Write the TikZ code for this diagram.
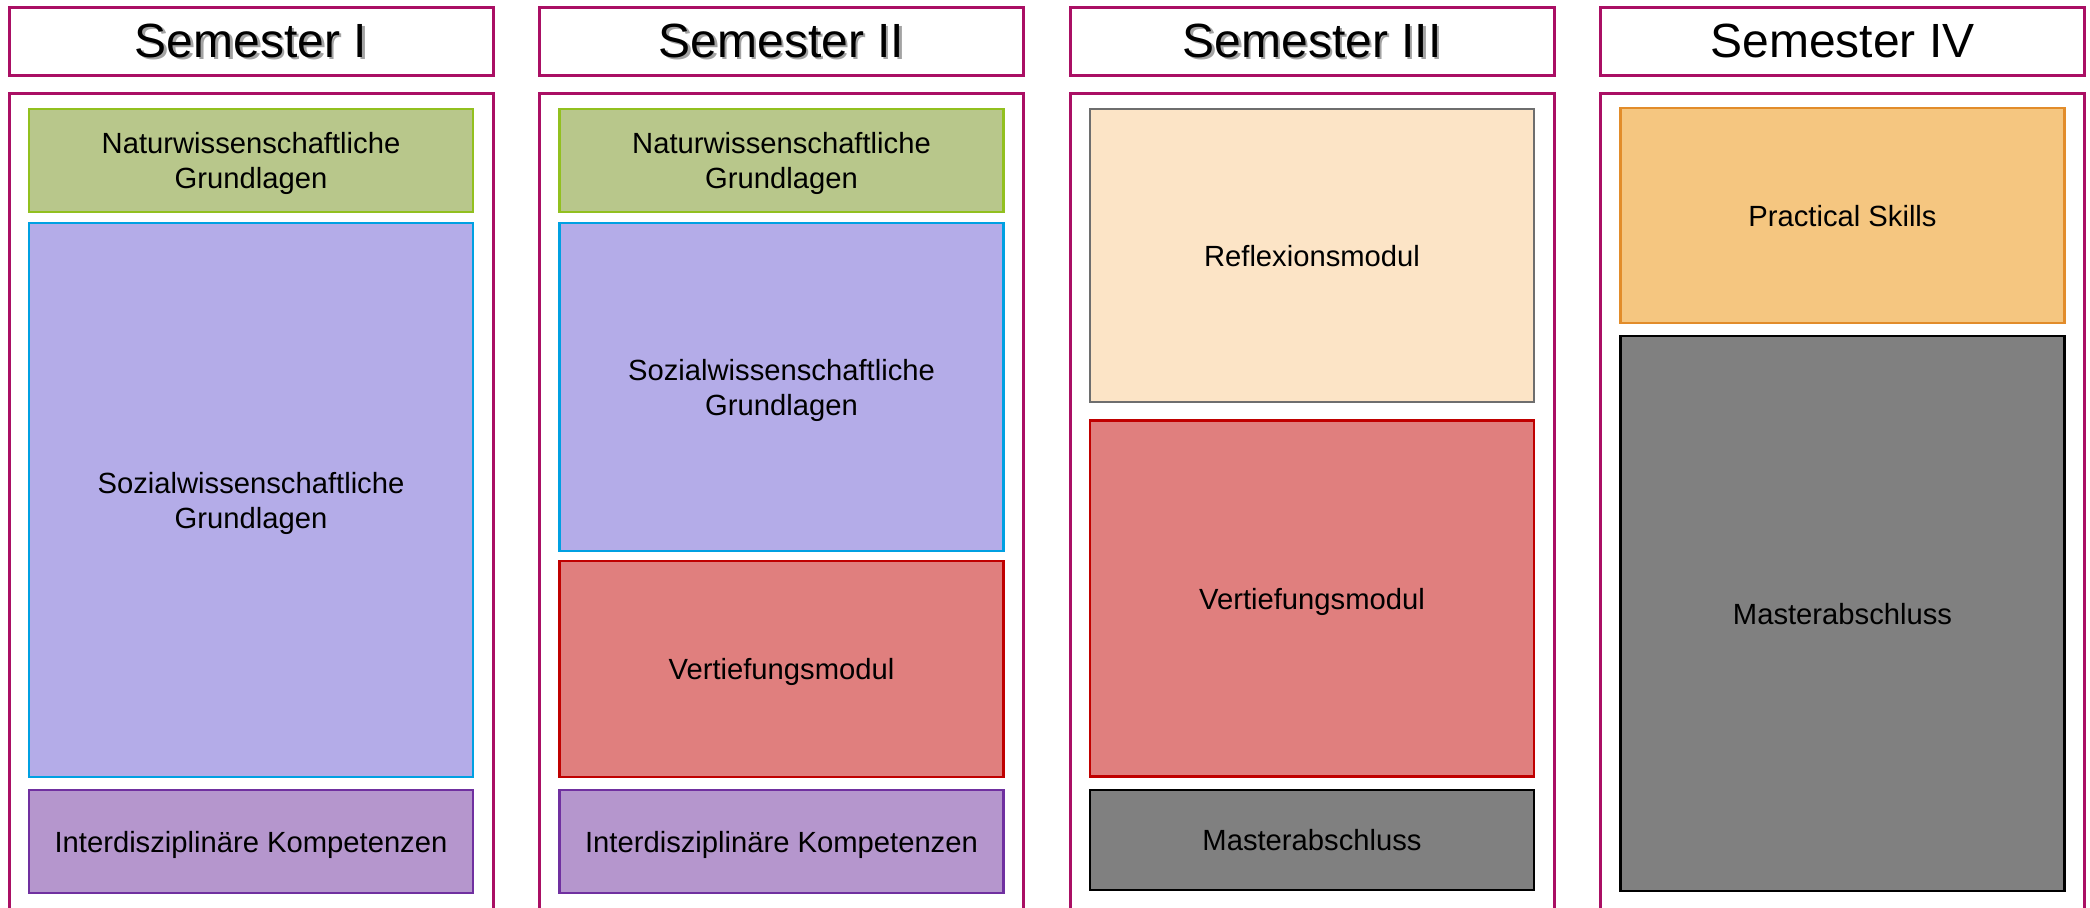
\documentclass[tikz,border=0pt]{standalone}
\usepackage{fontspec}
\setmainfont{Liberation Sans}
\definecolor{frame}{RGB}{170,15,100}
\definecolor{natfill}{RGB}{184,199,139}
\definecolor{natline}{RGB}{146,192,31}
\definecolor{sozfill}{RGB}{180,172,232}
\definecolor{sozline}{RGB}{0,160,226}
\definecolor{intfill}{RGB}{181,150,205}
\definecolor{intline}{RGB}{112,48,160}
\definecolor{vertfill}{RGB}{224,127,126}
\definecolor{vertline}{RGB}{192,0,0}
\definecolor{reffill}{RGB}{252,228,198}
\definecolor{refline}{RGB}{110,110,110}
\definecolor{pracfill}{RGB}{245,198,128}
\definecolor{pracline}{RGB}{226,140,42}
\definecolor{masfill}{RGB}{128,128,128}
\begin{document}
\begin{tikzpicture}[x=0.5pt,y=-0.5pt,
	head/.style={draw=frame, line width=1.5pt, minimum width=242pt, minimum height=34pt, inner sep=0pt},
	headtext/.style={inner sep=0pt, font=\fontsize{24}{28}\selectfont},
	shadowtext/.style={headtext, text=black!45, opacity=0.8},
	column/.style={draw=frame, line width=1.5pt, minimum width=242pt, minimum height=414pt, inner sep=0pt},
	modul/.style={line width=1.1pt, minimum width=222pt, inner sep=0pt, text depth=0pt, align=center, font=\fontsize{14.6}{17.5}\selectfont},
	nat/.style={modul, draw=natline, fill=natfill},
	soz/.style={modul, draw=sozline, fill=sozfill},
	inter/.style={modul, draw=intline, fill=intfill},
	vert/.style={modul, draw=vertline, fill=vertfill},
	refl/.style={modul, draw=refline, fill=reffill},
	prac/.style={modul, draw=pracline, fill=pracfill},
	master/.style={modul, draw=black, fill=masfill}]
	\useasboundingbox (0,0) rectangle (2090,907);
	\clip (0,0) rectangle (2090,907);
	
	% headers
	\node[head] (h1) at (251,41) {};
	\node[head] (h2) at (781.5,41) {};
	\node[head] (h3) at (1312,41) {};
	\node[head] (h4) at (1842.5,41) {};
	\node[shadowtext] (s1) at ([xshift=1.2pt,yshift=-1.2pt]h1.center) {Semester I};
	\node[shadowtext] (s2) at ([xshift=1.2pt,yshift=-1.2pt]h2.center) {Semester II};
	\node[shadowtext] (s3) at ([xshift=1.2pt,yshift=-1.2pt]h3.center) {Semester III};
	\node[headtext] (t1) at (h1.center) {Semester I};
	\node[headtext] (t2) at (h2.center) {Semester II};
	\node[headtext] (t3) at (h3.center) {Semester III};
	\node[headtext] (t4) at (h4.center) {Semester IV};
	
	% columns
	\node[column] (c1) at (251,507) {};
	\node[column] (c2) at (781.5,507) {};
	\node[column] (c3) at (1312,507) {};
	\node[column] (c4) at (1842.5,507) {};
	
	% Semester I
	\node[nat, minimum height=51.5pt] (nat1) at (251,160.5) {Naturwissenschaftliche\\Grundlagen};
	\node[soz, minimum height=277pt] (soz1) at (251,500) {Sozialwissenschaftliche\\Grundlagen};
	\node[inter, minimum height=51.5pt] (int1) at (251,841.5) {Interdisziplinäre Kompetenzen};
	
	% Semester II
	\node[nat, minimum height=51.5pt] (nat2) at (781.5,160.5) {Naturwissenschaftliche\\Grundlagen};
	\node[soz, minimum height=164pt] (soz2) at (781.5,387) {Sozialwissenschaftliche\\Grundlagen};
	\node[vert, minimum height=108pt] (vert2) at (781.5,669) {Vertiefungsmodul};
	\node[inter, minimum height=51.5pt] (int2) at (781.5,841.5) {Interdisziplinäre Kompetenzen};
	
	% Semester III
	\node[refl, minimum height=146.5pt] (refl3) at (1312,255.5) {Reflexionsmodul};
	\node[vert, minimum height=178pt] (vert3) at (1312,598.5) {Vertiefungsmodul};
	\node[master, minimum height=50pt] (mas3) at (1312,840) {Masterabschluss};
	
	% Semester IV
	\node[prac, minimum height=107.5pt] (prac4) at (1842.5,215.5) {Practical Skills};
	\node[master, minimum height=277.5pt] (mas4) at (1842.5,613.5) {Masterabschluss};
\end{tikzpicture}
\end{document}
